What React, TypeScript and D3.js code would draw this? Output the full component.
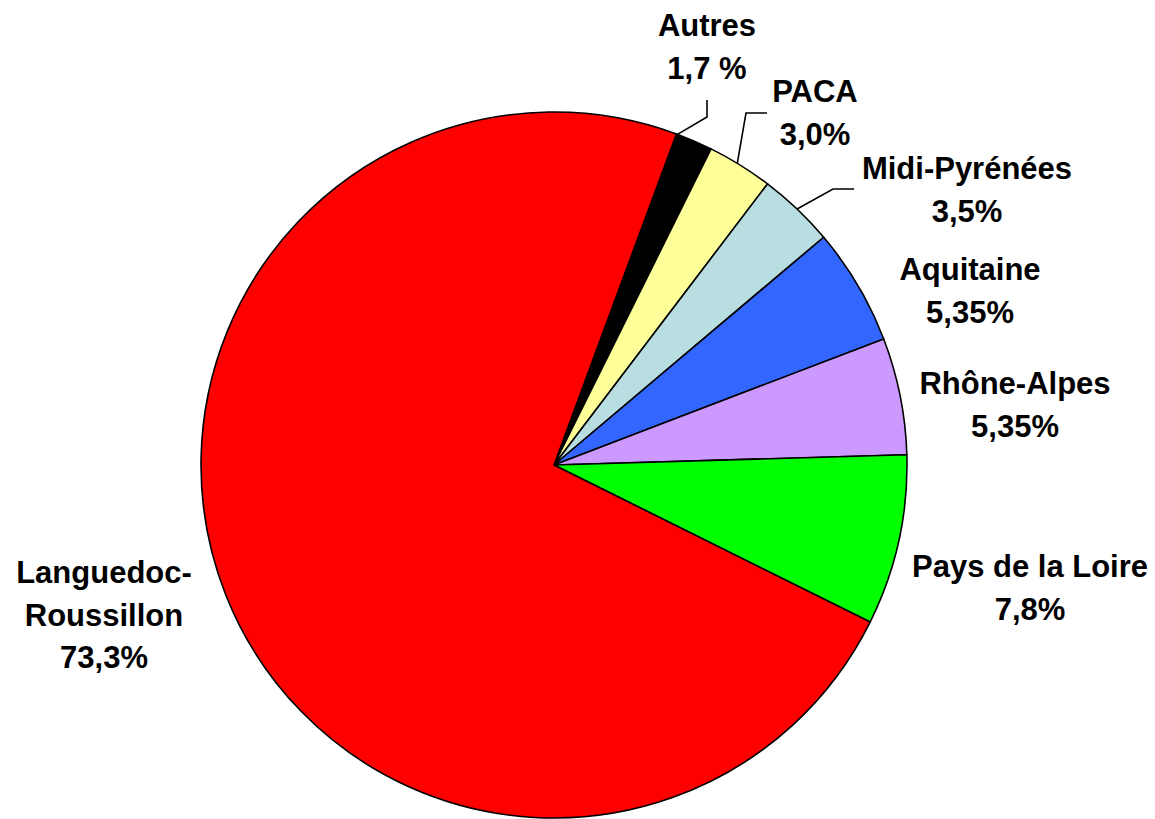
import React from "react";
import * as d3 from "d3";

const regions = ["Autres", "PACA", "Midi-Pyrénées", "Aquitaine", "Rhône-Alpes", "Pays de la Loire", "Languedoc-Roussillon"];
const shares = [1.7, 3.0, 3.5, 5.35, 5.35, 7.8, 73.3];
const shareLabels = ["1,7 %", "3,0%", "3,5%", "5,35%", "5,35%", "7,8%", "73,3%"];
const nameLines = [["Autres"], ["PACA"], ["Midi-Pyrénées"], ["Aquitaine"], ["Rhône-Alpes"], ["Pays de la Loire"], ["Languedoc-", "Roussillon"]];
const colors = ["#000000", "#FFFF99", "#B9DEE2", "#3366FF", "#CC99FF", "#00FF00", "#FF0000"];

// label layout (text centre x, first baseline y)
const labelPos: [number, number][] = [[707, 36], [815, 102], [967, 179], [970, 280], [1015, 394], [1030, 577], [104, 583]];
// leader lines: fraction along slice where line starts, and elbow points
const leaders: ({ frac: number; pts: [number, number][] } | null)[] = [
  { frac: 0.03, pts: [[707, 117], [707, 100]] },
  { frac: 0.45, pts: [[746, 113], [767, 113]] },
  { frac: 0.5, pts: [[833, 189], [854, 189]] },
  null, null, null, null,
];

const W = 1155, H = 819;
const cx = 554, cy = 465, R = 353;
const startDeg = 20.3;

export default function App() {
  const pie = d3.pie<number>().sort(null).value((d) => d)
    .startAngle((startDeg * Math.PI) / 180)
    .endAngle((startDeg * Math.PI) / 180 + 2 * Math.PI);
  const arcs = pie(shares);
  const arcGen = d3.arc<d3.PieArcDatum<number>>().innerRadius(0).outerRadius(R);
  const lineH = 42.5;
  return (
    <div style={{ position: "absolute", left: 0, top: 0 }}>
      <svg width={W} height={H} style={{ display: "block" }}>
        <rect width={W} height={H} fill="#fff" />
        <g transform={`translate(${cx},${cy})`}>
          {arcs.map((a, i) => (
            <path key={i} d={arcGen(a) || ""} fill={colors[i]} stroke="#000" strokeWidth={1.6} strokeLinejoin="round" />
          ))}
        </g>
        {arcs.map((a, i) => {
          const L = leaders[i];
          if (!L) return null;
          const ang = a.startAngle + (a.endAngle - a.startAngle) * L.frac;
          const p0: [number, number] = [cx + R * Math.sin(ang), cy - R * Math.cos(ang)];
          const pts = [p0, ...L.pts];
          return <path key={"l" + i} d={d3.line()(pts) || ""} fill="none" stroke="#000" strokeWidth={1.6} />;
        })}
        {regions.map((r, i) => {
          const lines = [...nameLines[i], shareLabels[i]];
          const [x, y] = labelPos[i];
          return (
            <text key={"t" + i} x={x} y={y} textAnchor="middle" fontFamily="'Liberation Sans', Arial, sans-serif" fontWeight="bold" fontSize={31} fill="#000">
              {lines.map((s, j) => (
                <tspan key={j} x={x} y={y + j * lineH}>{s}</tspan>
              ))}
            </text>
          );
        })}
      </svg>
    </div>
  );
}
